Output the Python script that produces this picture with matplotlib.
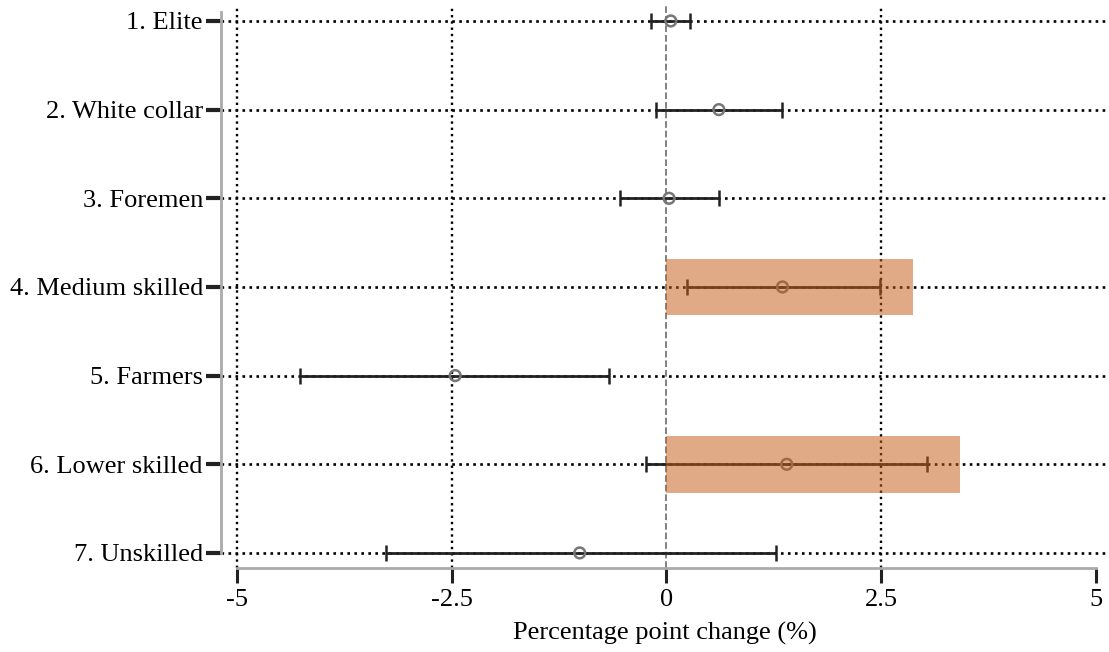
import numpy as np
import matplotlib.pyplot as plt

# datos
categorias = ['1. Elite', '2. White collar', '3. Foremen', '4. Medium skilled',
              '5. Farmers', '6. Lower skilled', '7. Unskilled']
estimacion = [0.05, 0.61, 0.03, 1.35, -2.46, 1.40, -1.01]
ci_bajo = [-0.18, -0.12, -0.54, 0.235, -4.27, -0.24, -3.27]
ci_alto = [0.27, 1.35, 0.61, 2.49, -0.67, 3.03, 1.28]
# barras resaltadas (categoria, largo)
barra_cat = ['4. Medium skilled', '6. Lower skilled']
barra_val = [2.87, 3.42]

xticks = [-5, -2.5, 0, 2.5, 5]
xtick_labels = ['-5', '-2.5', '0', '2.5', '5']

plt.rcParams['font.family'] = ['Liberation Serif', 'DejaVu Serif']

fig = plt.figure(figsize=(11.09, 6.52), dpi=100)
ax = fig.add_axes([221 / 1109, 1 - 568 / 652, (1108 - 221) / 1109, (568 - 5) / 652])

pos = np.arange(1, len(categorias) + 1)

# grilla
for yy in pos:
    ax.axhline(yy, color='black', ls=':', lw=1.9, zorder=1)
for xx in [-5, -2.5, 2.5]:
    ax.axvline(xx, color='black', ls=':', lw=1.7, zorder=1)
ax.axvline(0, color='#777777', ls='--', lw=1.3, zorder=1)

est = np.array(estimacion)
err = np.array([est - np.array(ci_bajo), np.array(ci_alto) - est])
ax.errorbar(est, pos, xerr=err, fmt='none', ecolor='#222222', elinewidth=2,
            capsize=6, capthick=1.8, zorder=3)
ax.scatter(est, pos, s=60, facecolors='none', edgecolors='#777777', linewidths=1.8, zorder=4)

# barras con transparencia encima
ypos_barras = [pos[categorias.index(c)] for c in barra_cat]
ax.barh(ypos_barras, barra_val, height=0.64, color='#C65C18', alpha=0.52, zorder=5)

ax.set_xlim(-5.186, 5.14)
ax.set_ylim(7.17, 0.82)
ax.set_yticks(pos)
ax.set_yticklabels(categorias, fontsize=19)
ax.set_xticks(xticks)
ax.set_xticklabels(xtick_labels, fontsize=19)
ax.set_xlabel('Percentage point change (%)', fontsize=19, labelpad=8)

ax.tick_params(axis='y', length=11, width=3, color='#222222', pad=2)
ax.tick_params(axis='x', length=11, width=2.2, color='#222222', pad=4)

ax.spines['top'].set_visible(False)
ax.spines['right'].set_visible(False)
ax.spines['left'].set_color('#aaaaaa')
ax.spines['left'].set_linewidth(2)
ax.spines['left'].set_bounds(7.0, 0.9)
ax.spines['bottom'].set_color('#aaaaaa')
ax.spines['bottom'].set_linewidth(2)
ax.spines['bottom'].set_bounds(-5, 5)

fig.savefig('out.png', dpi=100)
